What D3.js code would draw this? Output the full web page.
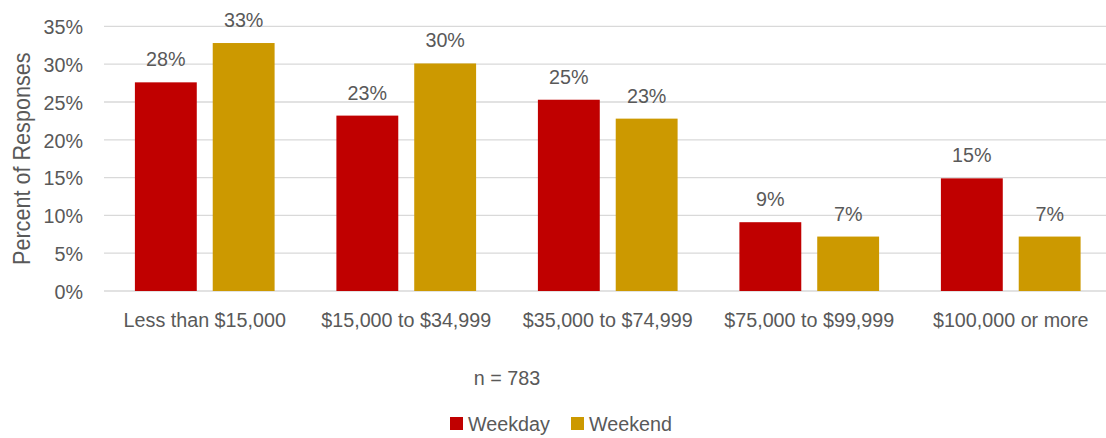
<!DOCTYPE html>
<html><head><meta charset="utf-8">
<script src="https://cdn.jsdelivr.net/npm/d3@7"></script>
<style>
body{margin:0;background:#fff;}
svg text{font-family:"Liberation Sans Narrow","Arial Narrow","Liberation Sans",Arial,sans-serif;fill:#595959;font-size:21px;}
</style></head>
<body><svg id="c" width="1106" height="438"></svg>
<script>
const categories = ["Less than $15,000","$15,000 to $34,999","$35,000 to $74,999","$75,000 to $99,999","$100,000 or more"];
const seriesNames = ["Weekday","Weekend"];
const weekday = [27.6, 23.2, 25.3, 9.1, 14.9];
const weekend = [32.8, 30.1, 22.8, 7.2, 7.2];
const colors = ["#C00000","#CC9900"];
const yTicks = [0,5,10,15,20,25,30,35];
const note = "n = 783";

const SX = 0.94;
const svg = d3.select("#c");
const pL = 104, pR = 104 + 5*201.5, pT = 26.4, pB = 291, gridEnd = 1106;
const x = d3.scaleBand().domain(categories).range([pL, pR]).paddingInner(0).paddingOuter(0);
const y = d3.scaleLinear().domain([0,35]).range([pB, pT]);
const xs = d3.scaleBand().domain(seriesNames).range([0, x.bandwidth()]).paddingInner(0.205).paddingOuter(0.397);

// gridlines
svg.append("g").selectAll("line").data(yTicks).join("line")
  .attr("x1", pL).attr("x2", gridEnd)
  .attr("y1", d=>y(d)).attr("y2", d=>y(d))
  .attr("stroke", "#d9d9d9").attr("stroke-width", 1.3);

// y axis labels
const yAxis = d3.axisLeft(y).tickValues(yTicks).tickFormat(d=>d+"%").tickSize(0).tickPadding(0);
const ya = svg.append("g").attr("transform", `translate(${pL-21},0)`).call(yAxis);
ya.select(".domain").remove();
ya.attr("font-size", null).attr("font-family", null);
ya.selectAll("text").attr("dy","0.35em").attr("transform", `scale(${SX},1)`);

// x axis labels
const xAxis = d3.axisBottom(x).tickSize(0).tickPadding(0);
const xa = svg.append("g").attr("transform", `translate(0,${pB+21})`).call(xAxis);
xa.select(".domain").remove();
xa.attr("font-size", null).attr("font-family", null);
xa.selectAll("text").attr("dy","0.71em").attr("transform", `scale(${SX},1)`);

// bars
const data = categories.map((c,i)=>({c, vals:[weekday[i], weekend[i]]}));
const g = svg.append("g").selectAll("g").data(data).join("g")
  .attr("transform", d=>`translate(${x(d.c)},0)`);
const items = d=>d.vals.map((v,j)=>({v, s:seriesNames[j], j}));
g.selectAll("rect").data(items).join("rect")
  .attr("x", d=>xs(d.s)).attr("width", xs.bandwidth())
  .attr("y", d=>y(d.v)).attr("height", d=>pB - y(d.v))
  .attr("fill", d=>colors[d.j]);
g.selectAll("text").data(items).join("text")
  .attr("transform", d=>`translate(${xs(d.s)+xs.bandwidth()/2},${y(d.v)-16}) scale(${SX},1)`)
  .attr("text-anchor","middle")
  .text(d=>Math.round(d.v)+"%");

// axis title
svg.append("text").attr("transform", `translate(30,${(pT+pB)/2}) rotate(-90) scale(${SX},1)`)
  .attr("text-anchor","middle").style("font-size","23px").text("Percent of Responses");

// note
svg.append("text").attr("transform", `translate(507,385) scale(${SX},1)`).attr("text-anchor","middle")
  .text(note);

// legend
const legendX = [450, 571];
const lg = svg.append("g").selectAll("g").data(seriesNames).join("g")
  .attr("transform", (d,i)=>`translate(${legendX[i]},417)`);
lg.append("rect").attr("width",13).attr("height",13).attr("fill",(d,i)=>colors[i]);
lg.append("text").attr("transform", `translate(18,6.5) scale(${SX},1)`).attr("dy","0.35em").text(d=>d);
</script></body></html>
